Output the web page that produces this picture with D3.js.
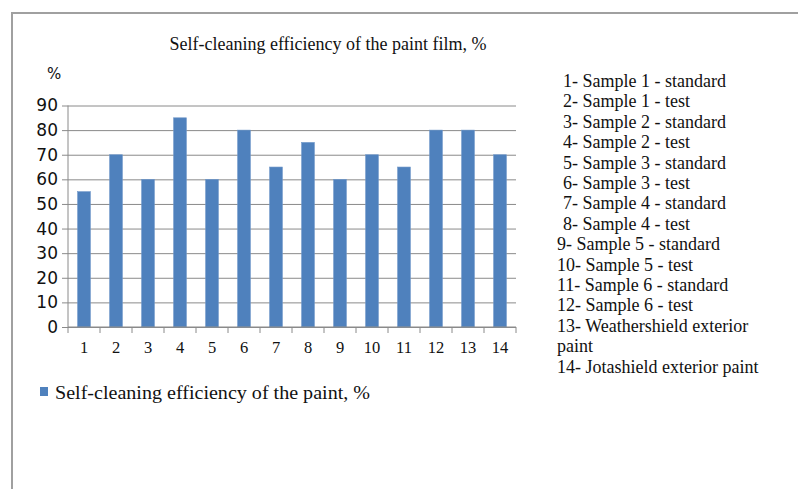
<!DOCTYPE html>
<html>
<head>
<meta charset="utf-8">
<script src="https://cdn.jsdelivr.net/npm/d3@7"></script>
<style>
body{margin:0;background:#fff;}
svg{display:block;}
.serif{font-family:"Liberation Serif","Times New Roman","DejaVu Serif",serif;}
.sans{font-family:"DejaVu Sans",Verdana,sans-serif;}
</style>
</head>
<body>
<div id="chart"></div>
<script>
'use strict'

var categories = ["1","2","3","4","5","6","7","8","9","10","11","12","13","14"]
var values = [55, 70, 60, 85, 60, 80, 65, 75, 60, 70, 65, 80, 80, 70]
var yTicks = [0, 10, 20, 30, 40, 50, 60, 70, 80, 90]
var sampleNames = [
	" 1- Sample 1 - standard",
	" 2- Sample 1 - test",
	" 3- Sample 2 - standard",
	" 4- Sample 2 - test",
	" 5- Sample 3 - standard",
	" 6- Sample 3 - test",
	" 7- Sample 4 - standard",
	" 8- Sample 4 - test",
	"9- Sample 5 - standard",
	"10- Sample 5 - test",
	"11- Sample 6 - standard",
	"12- Sample 6 - test",
	"13- Weathershield exterior",
	"paint",
	"14- Jotashield exterior paint"
]
var title = "Self-cleaning efficiency of the paint film, %"
var seriesName = "Self-cleaning efficiency of the paint, %"

var width = 798, height = 489
var plot = {left: 68, right: 516, top: 105.5, bottom: 327}
var barColor = "#4f81bd"

var svg = d3.select("#chart").append("svg")
	.attr("width", width)
	.attr("height", height)

// outer frame
svg.append("path")
	.attr("d", "M12," + height + " L12,13 L" + width + ",13")
	.attr("fill", "none")
	.attr("stroke", "#a0a0a0")
	.attr("stroke-width", 2)

svg.append("text")
	.attr("class", "serif")
	.attr("x", 328)
	.attr("y", 50)
	.attr("text-anchor", "middle")
	.style("font-size", "18px")
	.attr("fill", "#111")
	.text(title)

var x = d3.scaleBand()
	.domain(categories)
	.range([plot.left, plot.right])
	.paddingInner(0.6)
	.paddingOuter(0.3)

var xEdges = d3.scaleLinear()
	.domain([0, categories.length])
	.range([plot.left, plot.right])

var y = d3.scaleLinear()
	.domain([0, 90])
	.range([plot.bottom, plot.top])

// gridlines + y axis
var ya = svg.append("g")
	.attr("transform", "translate(" + plot.left + ",0)")
	.call(d3.axisLeft(y).tickValues(yTicks).tickSizeInner(-(plot.right - plot.left)).tickPadding(10))
ya.select(".domain").remove()
ya.selectAll(".tick line")
	.attr("stroke", "#8a8a8a")
	.attr("x1", -6)
ya.selectAll(".tick text")
	.attr("class", "sans")
	.attr("x", -10)
	.attr("font-family", null)
	.attr("font-size", null)
	.style("font-size", "17px")
	.attr("fill", "#111")

svg.append("line")
	.attr("x1", plot.left).attr("x2", plot.left)
	.attr("y1", plot.top).attr("y2", plot.bottom)
	.attr("stroke", "#8a8a8a")

svg.append("text")
	.attr("class", "sans")
	.attr("x", 47)
	.attr("y", 79)
	.style("font-size", "15px")
	.attr("fill", "#111")
	.text("%")

// bars
svg.selectAll(".bar")
	.data(values)
	.enter().append("rect")
	.attr("class", "bar")
	.attr("x", function(d, i){ return x(categories[i]) })
	.attr("width", x.bandwidth())
	.attr("y", function(d){ return y(d) })
	.attr("height", function(d){ return plot.bottom - y(d) })
	.attr("fill", barColor)
	.attr("stroke", "#6f97c8")
	.attr("stroke-width", 0.6)

// x axis
var xa = svg.append("g")
	.attr("transform", "translate(0," + plot.bottom + ")")
xa.append("line")
	.attr("x1", plot.left).attr("x2", plot.right)
	.attr("stroke", "#8a8a8a")
xa.selectAll(".tk")
	.data(d3.range(categories.length + 1))
	.enter().append("line")
	.attr("x1", function(d){ return xEdges(d) })
	.attr("x2", function(d){ return xEdges(d) })
	.attr("y1", 0).attr("y2", 6)
	.attr("stroke", "#8a8a8a")
xa.selectAll(".lbl")
	.data(categories)
	.enter().append("text")
	.attr("class", "serif")
	.attr("x", function(d){ return x(d) + x.bandwidth() / 2 })
	.attr("y", 26)
	.attr("text-anchor", "middle")
	.style("font-size", "16.5px")
	.attr("fill", "#111")
	.text(function(d){ return d })

// bottom legend
svg.append("rect")
	.attr("x", 40).attr("y", 387)
	.attr("width", 8).attr("height", 9)
	.attr("fill", barColor)
svg.append("text")
	.attr("class", "serif")
	.attr("x", 55)
	.attr("y", 399)
	.style("font-size", "18px")
	.attr("textLength", 315)
	.attr("lengthAdjust", "spacingAndGlyphs")
	.attr("fill", "#111")
	.text(seriesName)

// sample list on the right
svg.append("g").selectAll("text")
	.data(sampleNames)
	.enter().append("text")
	.attr("class", "serif")
	.attr("x", function(d){ return d.charAt(0) == " " ? 563 : 557 })
	.attr("y", function(d, i){ return 87 + i * 20.4 })
	.style("font-size", "18px")
	.attr("fill", "#111")
	.text(function(d){ return d.trim() })
</script>
</body>
</html>
